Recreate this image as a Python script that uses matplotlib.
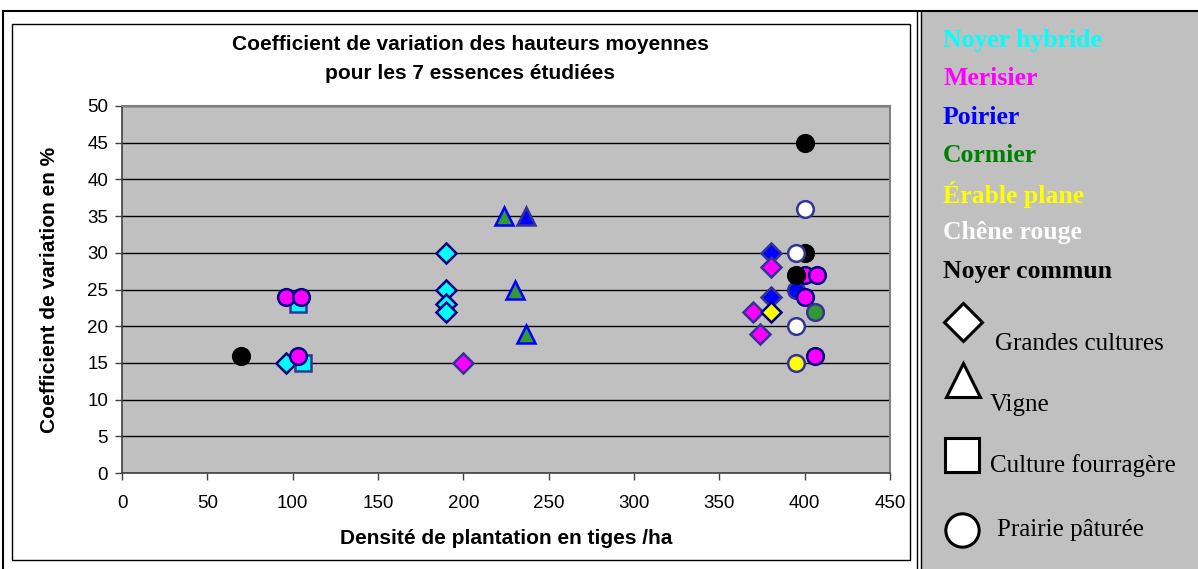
import numpy as np
import matplotlib
matplotlib.use('Agg')
import matplotlib.pyplot as plt
from matplotlib.patches import Rectangle

# densite (tiges/ha) et coefficient de variation (%) par essence et par culture
# Noyer hybride
nh_gc_x = [190, 190, 190, 190, 96]
nh_gc_y = [30, 25, 23, 22, 15]
nh_cf_x = [103, 106]
nh_cf_y = [23, 15]
# Merisier
me_gc_x = [380, 370, 374, 200]
me_gc_y = [28, 22, 19, 15]
me_pp_x = [96, 105, 103, 400, 407, 400, 406]
me_pp_y = [24, 24, 16, 27, 27, 24, 16]
# Poirier
po_gc_x = [380, 380]
po_gc_y = [30, 24]
po_vi_x = [237]
po_vi_y = [35]
po_pp_x = [395]
po_pp_y = [25]
# Cormier
co_vi_x = [224, 230, 237]
co_vi_y = [35, 25, 19]
co_pp_x = [406]
co_pp_y = [22]
# Erable plane
er_gc_x = [380]
er_gc_y = [22]
er_pp_x = [395]
er_pp_y = [15]
# Chene rouge
cr_pp_x = [400, 395, 395]
cr_pp_y = [36, 30, 20]
# Noyer commun
nc_pp_x = [70, 400, 400, 395]
nc_pp_y = [16, 45, 30, 27]

especes = ['Noyer hybride', 'Merisier', 'Poirier', 'Cormier',
           'Érable plane', 'Chêne rouge', 'Noyer commun']
couleurs = ['#00FFFF', '#FF00FF', '#0000FF', '#008000',
            '#FFFF00', '#FFFFFF', '#000000']

W, H = 1198, 569
fig = plt.figure(figsize=(W / 100, H / 100), dpi=100)

# cadre et panneau de legende (coordonnees pixels)
bg = fig.add_axes([0, 0, 1, 1])
bg.set_xlim(0, W)
bg.set_ylim(H, 0)
bg.axis('off')
bg.add_patch(Rectangle((921, 11), W - 921, H - 11, facecolor='#C0C0C0',
                       edgecolor='none'))
bg.plot([3, W], [11, 11], color='black', lw=1.5)
bg.plot([3, 3], [11, H], color='black', lw=1.5)
bg.plot([917, 917], [11, H], color='black', lw=1.0)
bg.plot([921, 921], [11, H], color='black', lw=1.0)
bg.add_patch(Rectangle((12, 24), 898, 536, facecolor='none',
                       edgecolor='black', lw=1.0))

for i, (nom, c) in enumerate(zip(especes, couleurs)):
    bg.text(943, 40 + i * 38.5, nom, color=c, fontsize=18.5,
            fontweight='bold', family='Liberation Serif', va='center')

sym = [('D', 'Grandes cultures', 963, 322, 995, 344),
       ('^', 'Vigne', 963, 380, 990, 405),
       ('s', 'Culture fourragère', 962, 455, 990, 466),
       ('o', 'Prairie pâturée', 962, 530, 997, 530)]
for m, lab, mx, my, tx, ty in sym:
    bg.plot([mx], [my], marker=m, markersize=24 if m != 'D' else 19,
            markerfacecolor='white', markeredgecolor='black', mew=2.2)
    bg.text(tx, ty, lab, fontsize=18, family='Liberation Serif',
            va='center')

# zone de trace
ax = fig.add_axes([122 / W, 1 - 473 / H, (890 - 122) / W, (473 - 106) / H])
ax.set_facecolor('#C0C0C0')
ax.set_xlim(0, 450)
ax.set_ylim(0, 50)
ax.set_xticks(np.arange(0, 451, 50))
ax.set_yticks(np.arange(0, 51, 5))
ax.grid(axis='y', color='black', lw=1.0)
ax.set_axisbelow(True)
for s in ['top', 'right']:
    ax.spines[s].set_color('#808080')
    ax.spines[s].set_linewidth(1.5)
for s in ['left', 'bottom']:
    ax.spines[s].set_color('#404040')
    ax.spines[s].set_linewidth(1.2)
ax.tick_params(direction='out', length=5, width=1, color='#404040',
               labelsize=13.5, pad=5)
ax.tick_params(axis='x', pad=11)
for lbl in ax.get_xticklabels() + ax.get_yticklabels():
    lbl.set_family('Liberation Sans')

kw = dict(linestyle='none', mew=1.8, clip_on=False, zorder=3)
ax.plot(nh_gc_x, nh_gc_y, 'D', mfc='#00FFFF', mec='#000080', ms=10, **kw)
ax.plot(nh_cf_x, nh_cf_y, 's', mfc='#00FFFF', mec='#333399', ms=11.5, **kw)
ax.plot(po_gc_x, po_gc_y, 'D', mfc='#0000FF', mec='#333399', ms=10, **kw)
ax.plot(po_vi_x, po_vi_y, '^', mfc='#0000FF', mec='#333399', ms=13, **kw)
ax.plot(po_pp_x, po_pp_y, 'o', mfc='#0000FF', mec='#333399', ms=12, **kw)
ax.plot(me_gc_x, me_gc_y, 'D', mfc='#FF00FF', mec='#333399', ms=10, **kw)
ax.plot(me_pp_x, me_pp_y, 'o', mfc='#FF00FF', mec='#000080', ms=12, **kw)
ax.plot(co_vi_x, co_vi_y, '^', mfc='#339933', mec='#0000FF', ms=13, **kw)
ax.plot(co_pp_x, co_pp_y, 'o', mfc='#339933', mec='#333399', ms=12, **kw)
ax.plot(er_gc_x, er_gc_y, 'D', mfc='#FFFF00', mec='#000080', ms=10, **kw)
ax.plot(er_pp_x, er_pp_y, 'o', mfc='#FFFF00', mec='#333399', ms=12, **kw)
ax.plot(nc_pp_x, nc_pp_y, 'o', mfc='black', mec='black', ms=12, **kw)
ax.plot(cr_pp_x, cr_pp_y, 'o', mfc='white', mec='#333399', ms=12, **kw)

ax.set_xlabel('Densité de plantation en tiges /ha', fontsize=15,
              fontweight='bold', family='Liberation Sans', labelpad=12)
ax.set_ylabel('Coefficient de variation en %', fontsize=15,
              fontweight='bold', family='Liberation Sans', labelpad=20)
bg.text(470, 44, 'Coefficient de variation des hauteurs moyennes',
        fontsize=15, fontweight='bold', family='Liberation Sans',
        ha='center', va='center')
bg.text(470, 73, 'pour les 7 essences étudiées',
        fontsize=15, fontweight='bold', family='Liberation Sans',
        ha='center', va='center')

fig.savefig('out.png', dpi=100)
